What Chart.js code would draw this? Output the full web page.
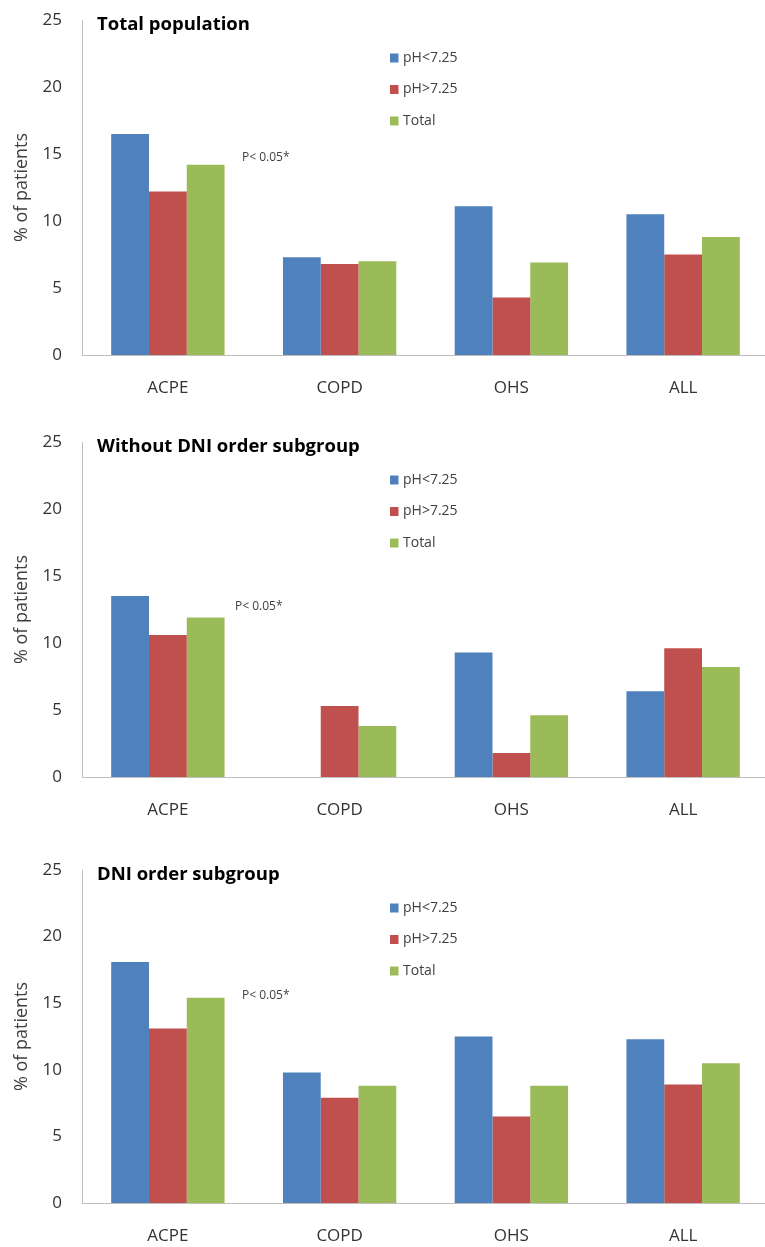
<!DOCTYPE html>
<html>
<head>
<meta charset="utf-8">
<script src="https://cdn.jsdelivr.net/npm/chart.js@4"></script>
<style>
  html, body { margin: 0; padding: 0; background: #fff; overflow: hidden; }
  body { width: 765px; height: 1247px; position: relative; }
  .panel { position: absolute; left: 0; width: 769px; }
</style>
</head>
<body>
<div class="panel" style="top:0px;height:400px"><canvas id="c1"></canvas></div>
<div class="panel" style="top:422px;height:400px"><canvas id="c2"></canvas></div>
<div class="panel" style="top:850px;height:398px"><canvas id="c3"></canvas></div>
<script>
// categories and series
const categories = ['ACPE', 'COPD', 'OHS', 'ALL'];
const seriesNames = ['pH<7.25', 'pH>7.25', 'Total'];
const seriesColors = ['#4f81bd', '#c0504d', '#9bbb59'];
const yTicks = [0, 5, 10, 15, 20, 25];

// Total population
const allLow = [16.5, 7.3, 11.1, 10.5];
const allHigh = [12.2, 6.8, 4.3, 7.5];
const allTotal = [14.2, 7.0, 6.9, 8.8];

// Without DNI order subgroup
const noDniLow = [13.5, 0, 9.3, 6.4];
const noDniHigh = [10.6, 5.3, 1.8, 9.6];
const noDniTotal = [11.9, 3.8, 4.6, 8.2];

// DNI order subgroup
const dniLow = [18.1, 9.8, 12.5, 12.3];
const dniHigh = [13.1, 7.9, 6.5, 8.9];
const dniTotal = [15.4, 8.8, 8.8, 10.5];

const panelTitles = ['Total population', 'Without DNI order subgroup', 'DNI order subgroup'];
const pNote = 'P< 0.05*';

Chart.defaults.font.family = '"Open Sans", sans-serif';
Chart.defaults.color = '#404040';

// title, p-value note and legend drawn inside the plot area
const overlay = {
  id: 'overlay',
  afterDraw(chart, args, opts) {
    const ctx = chart.ctx;
    const area = chart.chartArea;
    const y = chart.scales.y;
    ctx.save();
    ctx.textBaseline = 'middle';
    ctx.textAlign = 'left';

    ctx.fillStyle = '#000';
    ctx.font = 'bold 18.5px "Open Sans"';
    ctx.fillText(opts.title, area.left + 15, area.top + 5);

    ctx.fillStyle = '#404040';
    ctx.font = '12px "Open Sans"';
    ctx.fillText(pNote, opts.noteX, y.getPixelForValue(opts.noteValue));

    ctx.font = '14px "Open Sans"';
    chart.data.datasets.forEach((ds, i) => {
      const yy = area.top + 38 + i * 31.5;
      ctx.fillStyle = ds.backgroundColor;
      ctx.fillRect(390, yy - 4.5, 8.5, 9);
      ctx.fillStyle = '#404040';
      ctx.fillText(ds.label, 403, yy);
    });
    ctx.restore();
  }
};

function makeChart(id, series, title, noteX, noteValue) {
  return new Chart(document.getElementById(id), {
    type: 'bar',
    data: {
      labels: categories,
      datasets: series.map((vals, i) => ({
        label: seriesNames[i],
        data: vals,
        backgroundColor: seriesColors[i],
        borderWidth: 0,
        categoryPercentage: 0.66,
        barPercentage: 1.0
      }))
    },
    options: {
      responsive: true,
      maintainAspectRatio: false,
      animation: false,
      layout: { padding: { top: 20, left: 0, right: 0, bottom: 0 } },
      plugins: {
        legend: { display: false },
        tooltip: { enabled: false },
        overlay: { title, noteX, noteValue }
      },
      scales: {
        x: {
          grid: { display: false, drawTicks: false },
          border: { display: true, color: '#bfbfbf', width: 1 },
          ticks: { padding: 23, color: '#333', font: { size: 17 } },
          afterFit: s => { s.height = 45; }
        },
        y: {
          min: 0,
          max: 25,
          afterBuildTicks: s => { s.ticks = yTicks.map(v => ({ value: v })); },
          grid: { display: false, drawTicks: false },
          border: { display: true, color: '#bfbfbf', width: 1 },
          ticks: { padding: 20, color: '#333', font: { size: 17 } },
          title: {
            display: true,
            text: '% of patients',
            color: '#404040',
            font: { size: 18 },
            padding: { top: 11, bottom: 0 }
          },
          afterFit: s => {
            s.width = 82;
            s.paddingTop = 10;
            s.paddingBottom = 10;
          }
        }
      }
    },
    plugins: [overlay]
  });
}

makeChart('c1', [allLow, allHigh, allTotal], panelTitles[0], 242, 14.7);
makeChart('c2', [noDniLow, noDniHigh, noDniTotal], panelTitles[1], 235, 12.7);
makeChart('c3', [dniLow, dniHigh, dniTotal], panelTitles[2], 242, 15.6);
</script>
</body>
</html>
